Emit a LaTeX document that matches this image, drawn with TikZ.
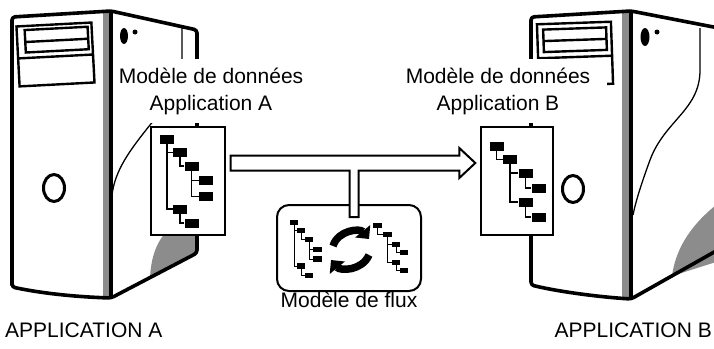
\documentclass[tikz,border=0pt]{standalone}
\usepackage{fontspec}
\setmainfont{Liberation Sans}
\usetikzlibrary{positioning,calc,arrows.meta}

\begin{document}
\begin{tikzpicture}[
  x=1pt, y=-1pt,
  case/.style={line width=3.6pt, line join=round, rounded corners=3pt},
  bay/.style={line width=2.4pt},
  bezel/.style={line width=1.3pt},
  greyed/.style={fill=black!45},
  model/.style={draw, line width=1.4pt, fill=white, minimum width=74pt, minimum height=108pt, inner sep=0pt},
  leaf/.style={fill=black, minimum width=14pt, minimum height=9pt, inner sep=0pt},
  twig/.style={fill=black, minimum width=8.5pt, minimum height=5.5pt, inner sep=0pt},
  branch/.style={line width=1.4pt, to path={|- (\tikztotarget)}},
  twigbranch/.style={line width=1pt, to path={|- (\tikztotarget)}},
  words/.style={inner sep=0pt, font=\fontsize{21}{27}\selectfont},
  heading/.style={words, align=center, fill=white, inner ysep=9pt},
  hollow/.style={draw, line width=2pt, fill=white, line join=miter},
  swap/.style={line width=7.5pt, -{Triangle[length=10pt, width=19pt]}}
]
\useasboundingbox (0,0) rectangle (714,348);
\clip (0,0) rectangle (714,348);

% tower of application A
\fill[greyed] (150,278) .. controls (151,258) and (156,242) .. (168,230) -- (197,230) -- (197,253) -- cycle;
\fill[greyed] (103,11) rectangle (111,298);
\draw[case] (12,287) -- (12,17) -- (111,11) -- (197,30) -- (197,253) -- (111,298)
  .. controls (80,297) and (45,294) .. (12,287) -- cycle;
\draw[line width=3.6pt] (111,11) -- (111,298);
\begin{scope}[rotate around={3:(55,55)}]
  \draw[bay] (18,24.5) rectangle (93,84.5) (18,56.5) -- (93,56.5);
  \draw[bay] (26,28.5) rectangle (89,51) (26,40.5) -- (89,40.5);
\end{scope}
\draw[line width=3pt] (54,188) ellipse [x radius=10.5, y radius=13.5];
\fill (124,36) ellipse [x radius=4, y radius=8];
\fill (135,32) circle [radius=2.5];
\draw[bezel] (182,28) -- (182,80) .. controls (182,100) and (160,112) .. (150,125)
  .. controls (130,150) and (115,170) .. (112,195);

% tower of application B
\fill[greyed] (672,276) .. controls (676,245) and (695,222) .. (716,205) -- (716,262) -- cycle;
\fill[greyed] (622,11) rectangle (631,299);
\draw[case] (716,251) -- (631,299) .. controls (600,297) and (560,292) .. (531,285)
  -- (531,17) -- (631,11) -- (716,27.5);
\draw[line width=3.6pt] (631,11) -- (631,299);
\begin{scope}[rotate around={2:(575,54)}]
  \draw[bay] (538,23) rectangle (612,85) (538,57) -- (612,57);
  \draw[bay] (544,28.5) rectangle (607,51) (544,40) -- (607,40);
\end{scope}
\draw[line width=3pt] (573,189) ellipse [x radius=10.5, y radius=13.5];
\fill (645,37) ellipse [x radius=4.5, y radius=9];
\fill (657,32) circle [radius=2.5];
\draw[bezel] (700,28) -- (700,70) .. controls (700,110) and (665,120) .. (650,160)
  .. controls (642,182) and (636,200) .. (633,215);

% titles of the two data models
\node[heading, inner xsep=6pt] (dataA) at (211,91) {Modèle de données\\Application A};
\node[heading, inner xsep=17pt] (dataB) at (498,91) {Modèle de données\\Application B};

% data model A
\node[model] (modelA) at (188,181) {};
\node[leaf] (a1) at (167,139) {};
\node[leaf] (a2) at (180,152.5) {};
\node[leaf] (a3) at (191.5,166) {};
\node[leaf] (a4) at (206,180.5) {};
\node[leaf] (a5) at (206,196.5) {};
\node[leaf] (a6) at (180,209) {};
\node[leaf] (a7) at (191.5,223) {};
\path (a1) edge[branch] (a2) (a1) edge[branch] (a6)
  (a2) edge[branch] (a3) (a3) edge[branch] (a4)
  (a3) edge[branch] (a5) (a6) edge[branch] (a7);

% data model B
\node[model, minimum width=72pt] (modelB) at (517,181) {};
\node[leaf] (b1) at (496.5,146) {};
\node[leaf] (b2) at (510,159.5) {};
\node[leaf] (b3) at (525.5,173) {};
\node[leaf] (b4) at (538.5,188) {};
\node[leaf] (b5) at (525.5,202) {};
\node[leaf] (b6) at (538.5,217) {};
\path (b1) edge[branch] (b2) (b2) edge[branch] (b3)
  (b2) edge[branch] (b5) (b3) edge[branch] (b4)
  (b5) edge[branch] (b6);

% flow model
\node[draw, line width=2pt, rounded corners=12pt, minimum width=144pt, minimum height=86pt] (flux) at (349,248) {};

\coordinate (tail) at ([xshift=5pt, yshift=18pt]modelA.east);
\coordinate (tip) at ([xshift=-5pt, yshift=18pt]modelB.west);
\coordinate (stem) at ([xshift=5pt, yshift=-13pt]flux.north);
\draw[hollow] ($(tail)+(0,-7.5)$) -- ($(tip)+(-16,-7.5)$) -- ($(tip)+(-16,-15)$) -- (tip)
  -- ($(tip)+(-16,15)$) -- ($(tip)+(-16,7.5)$) -| ($(stem)+(4.5,0)$)
  -- ($(stem)+(-4.5,0)$) |- ($(tail)+(0,7.5)$) -- cycle;

\node[twig] (c1) at (294,222.5) {};
\node[twig] (c2) at (301,230.5) {};
\node[twig] (c3) at (309,239.5) {};
\node[twig] (c4) at (317.5,249.5) {};
\node[twig] (c5) at (317.5,259) {};
\node[twig] (c6) at (301,266) {};
\node[twig] (c7) at (309,275.5) {};
\path (c1) edge[twigbranch] (c2) (c1) edge[twigbranch] (c6)
  (c2) edge[twigbranch] (c3) (c3) edge[twigbranch] (c4)
  (c3) edge[twigbranch] (c5) (c6) edge[twigbranch] (c7);

\node[twig] (d1) at (377.5,225.5) {};
\node[twig] (d2) at (387.5,234.5) {};
\node[twig] (d3) at (396,244.5) {};
\node[twig] (d4) at (404,252.5) {};
\node[twig] (d5) at (396,262.5) {};
\node[twig] (d6) at (404,270.5) {};
\path (d1) edge[twigbranch] (d2) (d2) edge[twigbranch] (d3)
  (d2) edge[twigbranch] (d5) (d3) edge[twigbranch] (d4)
  (d5) edge[twigbranch] (d6);

\draw[swap] (333,246) .. controls (338,230) and (360,228) .. (369,239);
\draw[swap] (369,255) .. controls (362,271) and (340,271) .. (331,260);

% captions
\node[words, below=0pt of flux] (fluxname) {Modèle de flux};
\node[words, anchor=base west] (appA) at (5,337) {APPLICATION A};
\node[words, anchor=base east] (appB) at (712,337) {APPLICATION B};
\end{tikzpicture}
\end{document}
